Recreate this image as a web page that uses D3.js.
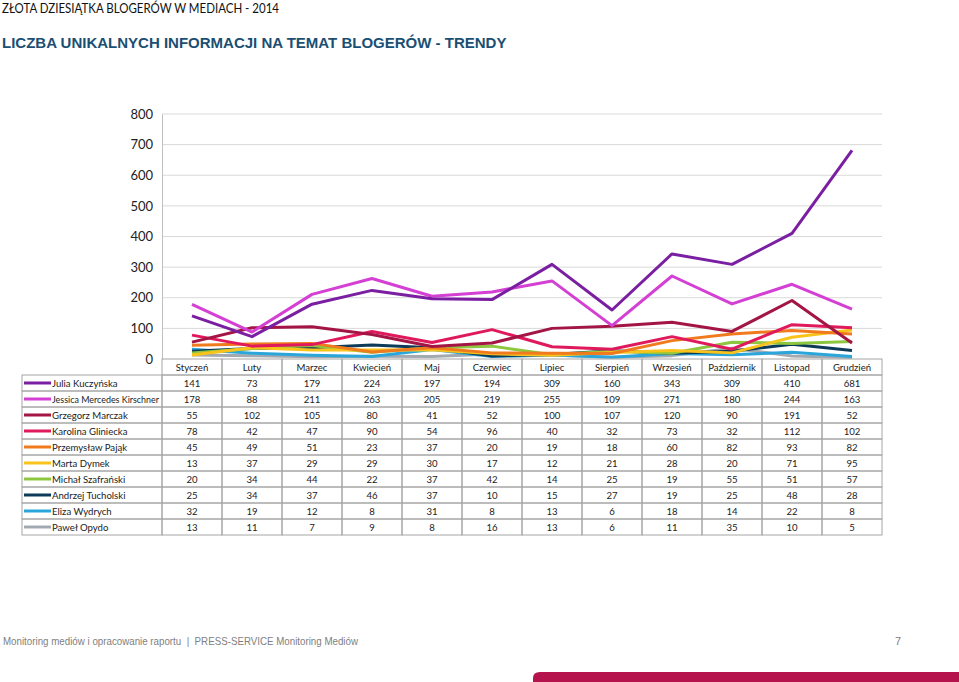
<!DOCTYPE html>
<html><head><meta charset="utf-8">
<script src="https://cdn.jsdelivr.net/npm/d3@7"></script>
<style>
body{margin:0;background:#fff;}
svg{display:block;}
</style></head>
<body>
<script>
const months = ["Styczeń","Luty","Marzec","Kwiecień","Maj","Czerwiec","Lipiec","Sierpień","Wrzesień","Październik","Listopad","Grudzień"];
const names = ["Julia Kuczyńska","Jessica Mercedes Kirschner","Grzegorz Marczak","Karolina Gliniecka","Przemysław Pająk","Marta Dymek","Michał Szafrański","Andrzej Tucholski","Eliza Wydrych","Paweł Opydo"];
const julia    = [141,73,179,224,197,194,309,160,343,309,410,681];
const jessica  = [178,88,211,263,205,219,255,109,271,180,244,163];
const grzegorz = [55,102,105,80,41,52,100,107,120,90,191,52];
const karolina = [78,42,47,90,54,96,40,32,73,32,112,102];
const przemek  = [45,49,51,23,37,20,19,18,60,82,93,82];
const marta    = [13,37,29,29,30,17,12,21,28,20,71,95];
const michal   = [20,34,44,22,37,42,14,25,19,55,51,57];
const andrzej  = [25,34,37,46,37,10,15,27,19,25,48,28];
const eliza    = [32,19,12,8,31,8,13,6,18,14,22,8];
const pawel    = [13,11,7,9,8,16,13,6,11,35,10,5];
const yTicks = [0,100,200,300,400,500,600,700,800];
const colors = ["#7b1fa2","#d43fd4","#a31545","#e0185c","#f07a1e","#f8c31a","#8dc63f","#0d3a58","#2ba6db","#a2a9b1"];

const series = [julia,jessica,grzegorz,karolina,przemek,marta,michal,andrzej,eliza,pawel];

(function(){
const W = 959, H = 682;
const svg = d3.select("body").append("svg").attr("width",W).attr("height",H);
const font = "Lato, 'Open Sans', sans-serif";

const t1 = svg.append("text").attr("x",2).attr("y",13).attr("font-family",font).attr("font-size",13).attr("fill","#111")
  .text("ZŁOTA DZIESIĄTKA BLOGERÓW W MEDIACH - 2014");
t1.attr("textLength",277).attr("lengthAdjust","spacingAndGlyphs");
svg.append("text").attr("x",2).attr("y",48).attr("font-family","'Liberation Sans', Arial, sans-serif").attr("font-weight","bold").attr("font-size",15).attr("fill","#1a4f73")
  .text("LICZBA UNIKALNYCH INFORMACJI NA TEMAT BLOGERÓW - TRENDY");

const pl = 162, pr = 882, pt = 114, pb = 359;
const x = d3.scaleBand().domain(months).range([pl,pr]);
const y = d3.scaleLinear().domain([0,800]).range([pb,pt]);

svg.append("g").selectAll("line").data(yTicks.filter(d=>d>0)).join("line")
  .attr("x1",pl).attr("x2",pr).attr("y1",d=>y(d)).attr("y2",d=>y(d))
  .attr("stroke","#d9d9d9").attr("stroke-width",1);
const yAxis = d3.axisLeft(y).tickValues(yTicks).tickSize(0).tickPadding(9);
const gy = svg.append("g").attr("transform",`translate(${pl},0)`).call(yAxis);
gy.select(".domain").attr("stroke","#bfbfbf");
gy.selectAll("text").attr("font-family",font).attr("font-size",13).attr("fill","#222");

const line = d3.line().x((d,i)=>x(months[i])+x.bandwidth()/2).y(d=>y(d));
const order = [9,8,7,6,5,4,3,2,1,0];
svg.append("g").selectAll("path").data(order).join("path")
  .attr("d",k=>line(series[k])).attr("fill","none").attr("stroke",k=>colors[k])
  .attr("stroke-width",3).attr("stroke-linejoin","round");

const rowH = 16, headTop = 359, legLeft = 22;
const tg = svg.append("g");
const gridC = "#a6a6a6";
const fs = 9.6;
months.forEach(m=>{
  tg.append("rect").attr("x",x(m)).attr("y",headTop).attr("width",x.bandwidth()).attr("height",rowH)
    .attr("fill","none").attr("stroke",gridC).attr("stroke-width",1);
  tg.append("text").attr("x",x(m)+x.bandwidth()/2).attr("y",headTop+rowH/2+3.5).attr("text-anchor","middle")
    .attr("font-family",font).attr("font-size",fs).attr("fill","#222").text(m);
});
names.forEach((n,r)=>{
  const ry = headTop + rowH*(r+1);
  tg.append("rect").attr("x",legLeft).attr("y",ry).attr("width",pl-legLeft).attr("height",rowH)
    .attr("fill","none").attr("stroke",gridC).attr("stroke-width",1);
  tg.append("line").attr("x1",24).attr("x2",51).attr("y1",ry+rowH/2).attr("y2",ry+rowH/2)
    .attr("stroke",colors[r]).attr("stroke-width",3);
  const lt = tg.append("text").attr("x",52).attr("y",ry+rowH/2+3.5).attr("font-family",font).attr("font-size",fs).attr("fill","#222").text(n);
  const w = lt.node().getComputedTextLength();
  if (w > 107) lt.attr("textLength",107).attr("lengthAdjust","spacingAndGlyphs");
  months.forEach((m,i)=>{
    tg.append("rect").attr("x",x(m)).attr("y",ry).attr("width",x.bandwidth()).attr("height",rowH)
      .attr("fill","none").attr("stroke",gridC).attr("stroke-width",1);
    tg.append("text").attr("x",x(m)+x.bandwidth()/2).attr("y",ry+rowH/2+3.5).attr("text-anchor","middle")
      .attr("font-family",font).attr("font-size",fs).attr("fill","#222").text(series[r][i]);
  });
});

svg.append("text").attr("x",3).attr("y",645).attr("font-family","'Liberation Sans', Arial, sans-serif").attr("font-size",11).attr("fill","#808080")
  .style("white-space","pre")
  .attr("textLength",355).attr("lengthAdjust","spacingAndGlyphs")
  .text("Monitoring mediów i opracowanie raportu  |  PRESS-SERVICE Monitoring Mediów");
svg.append("text").attr("x",895).attr("y",645).attr("font-family","'Liberation Sans', Arial, sans-serif").attr("font-size",11).attr("fill","#808080").text("7");
svg.append("path").attr("d",`M533,682 L533,678 Q533,672 540,672 L959,672 L959,682 Z`).attr("fill","#b5134b");
})();
</script>
</body></html>
